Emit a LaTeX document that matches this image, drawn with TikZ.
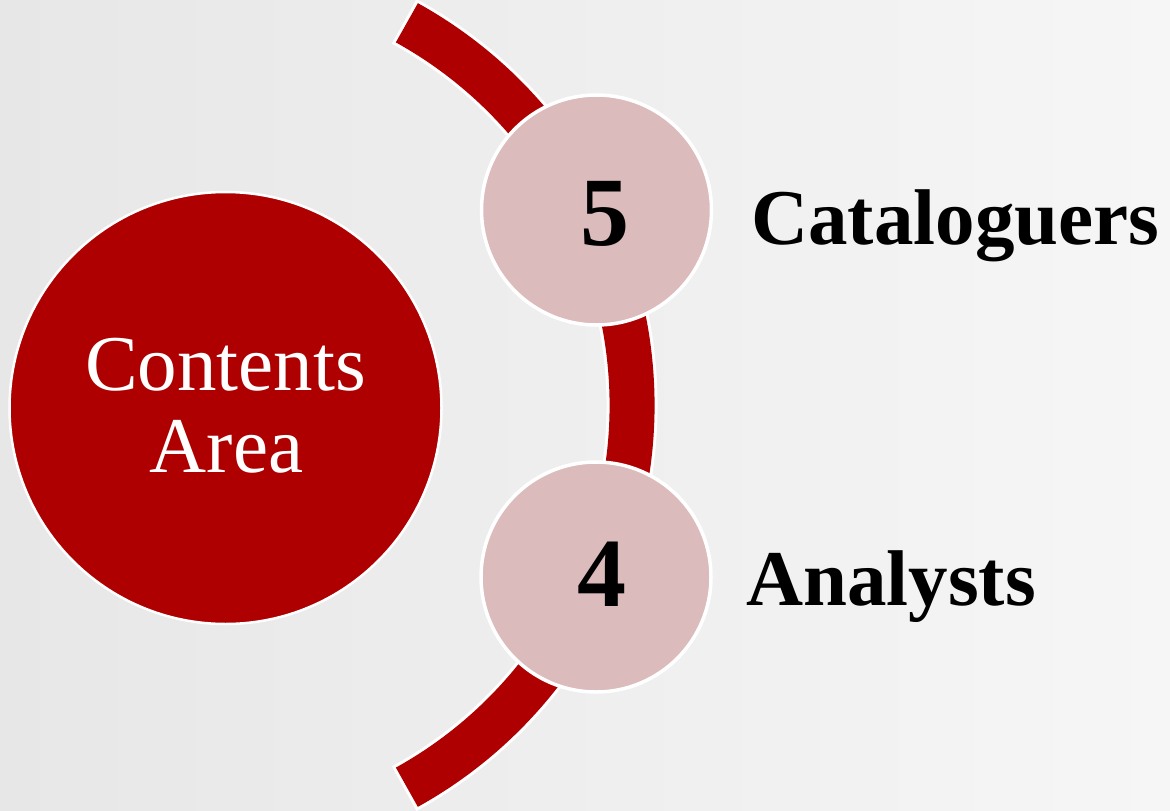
\documentclass[tikz,border=0pt]{standalone}
\usepackage{fontspec}
\setmainfont{Liberation Serif}
\definecolor{darkred}{HTML}{AE0000}
\definecolor{pinkfill}{HTML}{DBBBBB}
\definecolor{bgA}{HTML}{E7E7E7}
\definecolor{bgB}{HTML}{F6F6F6}
\tikzset{
  bigdisc/.style={circle, fill=darkred, draw=white, line width=2.5pt, inner sep=0pt, minimum size=432pt},
  smalldisc/.style={circle, fill=pinkfill, draw=white, line width=3.5pt, inner sep=0pt, minimum size=230pt},
  numtext/.style={anchor=base, inner sep=0pt, font=\bfseries\fontsize{98}{98}\selectfont},
  labeltext/.style={anchor=base west, inner sep=0pt, font=\bfseries\fontsize{79}{80}\selectfont},
  whitetext/.style={anchor=base, inner sep=0pt, text=white, font=\fontsize{79}{82}\selectfont},
}
\begin{document}
\begin{tikzpicture}[x=1pt, y=-1pt]
  \useasboundingbox (0,0) rectangle (1170,811);
  \shade[shading angle=45, left color=bgA, right color=bgB] (0,811) rectangle (1170,0);
  % arc band
  \coordinate (arcc) at (195,405);
  \draw[white, line width=51pt] (arcc) ++(-61.4:437) arc[start angle=-61.4, end angle=61.4, radius=437];
  \draw[darkred, line width=45pt] (arcc) ++(-61:437) arc[start angle=-61, end angle=61, radius=437];
  % discs
  \node[bigdisc] (main) at (225.5,408) {};
  \node[smalldisc] (c5) at (596.5,210) {};
  \node[smalldisc] (c4) at (596,577) {};
  % texts
  \node[whitetext] (t1) at (225.5,390) {Contents};
  \node[whitetext] (t2) at (226.5,472) {Area};
  \node[numtext] (n5) at (604.5,245) {5};
  \node[numtext] (n4) at (601.5,606) {4};
  \node[labeltext] (l5) at (751,244) {Cataloguers};
  \node[labeltext] (l4) at (746,605) {Analysts};
\end{tikzpicture}
\end{document}
